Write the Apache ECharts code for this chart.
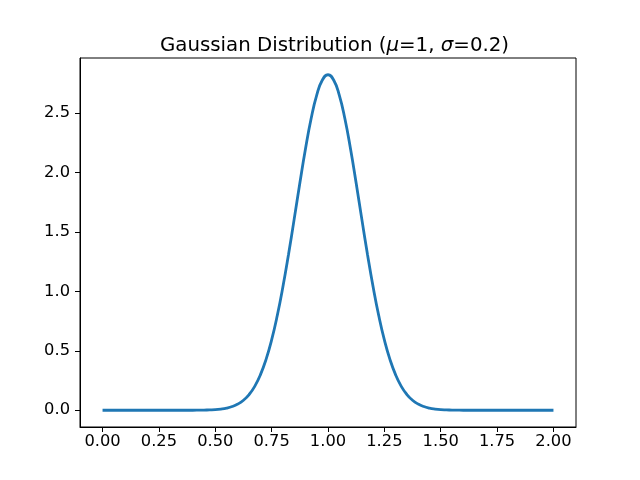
<!DOCTYPE html>
<html>
<head>
<meta charset="utf-8">
<script src="https://cdn.jsdelivr.net/npm/echarts@6/dist/echarts.min.js"></script>
<style>html,body{margin:0;padding:0;background:#fff}#c{width:640px;height:480px}</style>
</head>
<body>
<div id="c"></div>
<script>
var xs = [0.000,0.025,0.050,0.075,0.100,0.125,0.150,0.175,0.200,0.225,0.250,0.275,0.300,0.325,0.350,0.375,0.400,0.425,0.450,0.475,0.500,0.525,0.550,0.575,0.600,0.625,0.650,0.675,0.700,0.725,0.750,0.775,0.800,0.825,0.850,0.875,0.900,0.925,0.950,0.975,1.000,1.025,1.050,1.075,1.100,1.125,1.150,1.175,1.200,1.225,1.250,1.275,1.300,1.325,1.350,1.375,1.400,1.425,1.450,1.475,1.500,1.525,1.550,1.575,1.600,1.625,1.650,1.675,1.700,1.725,1.750,1.775,1.800,1.825,1.850,1.875,1.900,1.925,1.950,1.975,2.000];
var ys = [0,0,0,0,0,0,0,0,0,0,0,0,0,0,0,0,0,0.0005,0.0015,0.003,0.005,0.010,0.018,0.031,0.052,0.084,0.132,0.201,0.297,0.426,0.591,0.796,1.038,1.312,1.607,1.909,2.197,2.451,2.650,2.777,2.821,2.777,2.650,2.451,2.197,1.909,1.607,1.312,1.038,0.796,0.591,0.426,0.297,0.201,0.132,0.084,0.052,0.031,0.018,0.010,0.005,0.003,0.0015,0.0005,0,0,0,0,0,0,0,0,0,0,0,0,0,0,0,0,0];
var xTicks = [0,0.25,0.5,0.75,1.0,1.25,1.5,1.75,2.0];
var yTicks = [0,0.5,1.0,1.5,2.0,2.5];

var pts = xs.map(function(x,i){return [x, ys[i]];});
var chart = echarts.init(document.getElementById('c'));
var font = 'DejaVu Sans';
chart.setOption({
  animation: false,
  backgroundColor: '#fff',
  title: {
    text: 'Gaussian Distribution ({i|μ}=1, {i|σ}=0.2)',
    left: 155,
    top: 31,
    textStyle: {
      fontFamily: font, fontSize: 19.8, fontWeight: 'normal', color: '#000',
      rich: { i: { fontFamily: font, fontSize: 19.8, fontStyle: 'italic', color: '#000' } }
    }
  },
  grid: { left: 80, right: 64, top: 58, bottom: 53, show: true, borderColor: '#000', borderWidth: 1, backgroundColor: 'transparent' },
  xAxis: {
    type: 'value', min: -0.1, max: 2.1,
    splitLine: { show: false },
    axisLine: { show: true, onZero: false, lineStyle: { color: '#000', width: 1 } },
    axisTick: { show: true, length: 5, lineStyle: { color: '#000' }, customValues: xTicks },
    axisLabel: { customValues: xTicks, margin: 7, color: '#000', fontFamily: font, fontSize: 16.3,
      formatter: function(v){ return v.toFixed(2); } }
  },
  yAxis: {
    type: 'value', min: -0.141, max: 2.962,
    splitLine: { show: false },
    axisLine: { show: true, onZero: false, lineStyle: { color: '#000', width: 1 } },
    axisTick: { show: true, length: 5, lineStyle: { color: '#000' }, customValues: yTicks },
    axisLabel: { customValues: yTicks, margin: 10, color: '#000', fontFamily: font, fontSize: 16.3,
      formatter: function(v){ return v.toFixed(1); } }
  },
  series: [{
    type: 'line', data: pts, smooth: true, showSymbol: false,
    lineStyle: { color: '#1f77b4', width: 2.8 }
  }]
});
</script>
</body>
</html>
